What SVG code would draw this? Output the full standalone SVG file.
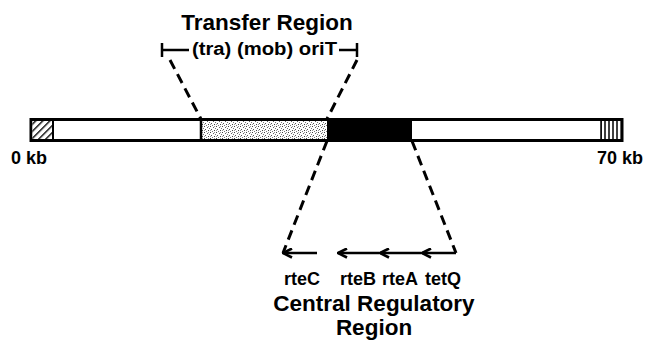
<svg xmlns="http://www.w3.org/2000/svg" width="648" height="343" viewBox="0 0 648 343">
<style>
text{font-family:"Liberation Sans",Arial,sans-serif;font-weight:bold;fill:#000}
.dash{stroke:#000;stroke-width:3;stroke-dasharray:10,6;fill:none}
.ln{stroke:#000;stroke-width:2.5;fill:none}
</style>
<defs>
<pattern id="hatch" width="5" height="5" patternUnits="userSpaceOnUse" patternTransform="rotate(45)">
<rect width="5" height="5" fill="#fff"/><line x1="0" y1="0" x2="0" y2="5" stroke="#000" stroke-width="2.8"/>
</pattern>
<pattern id="vstripe" width="4" height="4" patternUnits="userSpaceOnUse">
<rect width="4" height="4" fill="#fff"/><line x1="1" y1="0" x2="1" y2="4" stroke="#000" stroke-width="1.5"/>
</pattern>
<pattern id="stipple" width="6" height="6" patternUnits="userSpaceOnUse">
<rect width="6" height="6" fill="#fff"/>
<rect x="0" y="0" width="1" height="1" fill="#444"/>
<rect x="3" y="1" width="1" height="1" fill="#666"/>
<rect x="1" y="3" width="1" height="1" fill="#555"/>
<rect x="4" y="4" width="1" height="1" fill="#444"/>
<rect x="5" y="2" width="1" height="1" fill="#777"/>
<rect x="2" y="5" width="1" height="1" fill="#777"/>
<rect x="4" y="0" width="1" height="1" fill="#999"/>
<rect x="0" y="4" width="1" height="1" fill="#999"/>
</pattern>
<marker id="ah" viewBox="0 0 11 11" refX="10" refY="5.5" markerWidth="11" markerHeight="11" markerUnits="userSpaceOnUse" orient="auto">
<path d="M1,1 L10,5.5 L1,10" fill="none" stroke="#000" stroke-width="2.6"/>
</marker>
</defs>
<g id="plasmid">
<rect x="31" y="119.5" width="591" height="21" fill="#fff" stroke="#000" stroke-width="3"/>
<rect x="32.5" y="121" width="20" height="18" fill="url(#hatch)"/>
<line x1="53" y1="119" x2="53" y2="141" stroke="#000" stroke-width="2"/>
<rect x="201" y="121" width="126" height="18" fill="url(#stipple)"/>
<line x1="201" y1="119" x2="201" y2="141" stroke="#000" stroke-width="2.5"/>
<rect x="327" y="119.5" width="85" height="21" fill="#000"/>
<rect x="601" y="121" width="19.5" height="18" fill="url(#vstripe)"/>
<line x1="601" y1="119" x2="601" y2="141" stroke="#000" stroke-width="1.5"/>
</g>
<g id="scale-labels">
<text x="11" y="164" font-size="18">0 kb</text>
<text x="643" y="164" font-size="18" text-anchor="end">70 kb</text>
</g>
<g id="transfer-region">
<text x="267" y="30" font-size="22.5" text-anchor="middle">Transfer Region</text>
<line class="ln" x1="162" y1="43" x2="162" y2="57" stroke-width="2"/>
<line class="ln" x1="162" y1="50" x2="189" y2="50" stroke-width="2"/>
<text x="192" y="55" font-size="18" textLength="145" lengthAdjust="spacingAndGlyphs">(tra) (mob) oriT</text>
<line class="ln" x1="339" y1="50" x2="357" y2="50" stroke-width="2"/>
<line class="ln" x1="357" y1="43" x2="357" y2="57" stroke-width="2"/>
</g>
<g id="central-region">
<text x="302" y="285" font-size="18" text-anchor="middle">rteC</text>
<text x="358" y="285" font-size="18" text-anchor="middle">rteB</text>
<text x="400" y="285" font-size="18" text-anchor="middle">rteA</text>
<text x="443" y="285" font-size="18" text-anchor="middle">tetQ</text>
<text x="374" y="311" font-size="22.5" text-anchor="middle">Central Regulatory</text>
<text x="374" y="335" font-size="22.5" text-anchor="middle">Region</text>
</g>
<g id="connectors">
<path class="dash" d="M170,60 L201,119"/>
<path class="dash" d="M357,60 L327,119"/>
<path class="dash" d="M327,141 L283,253"/>
<path class="dash" d="M412,141 L456,253"/>
<line class="ln" x1="317" y1="253" x2="283" y2="253" marker-end="url(#ah)"/>
<line class="ln" x1="379" y1="253" x2="338" y2="253" marker-end="url(#ah)"/>
<line class="ln" x1="421" y1="253" x2="380" y2="253" marker-end="url(#ah)"/>
<line class="ln" x1="456" y1="253" x2="422" y2="253" marker-end="url(#ah)"/>
</g>
</svg>
